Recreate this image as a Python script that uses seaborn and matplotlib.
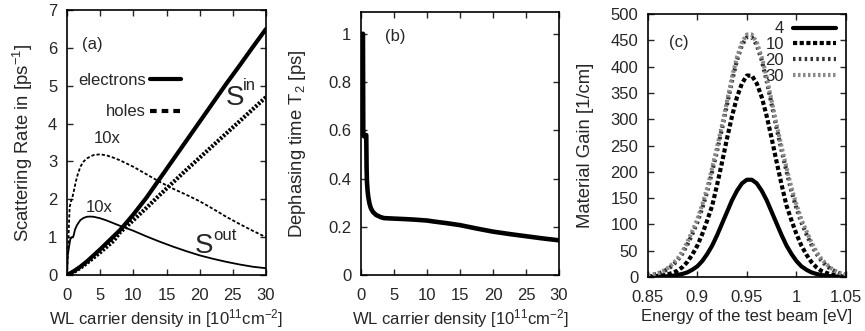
import matplotlib
matplotlib.use("Agg")
import matplotlib.pyplot as plt
import seaborn as sns
import numpy as np

# ---------------- data ----------------
# (a) scattering rates
n_in = [0, 1, 2, 3, 4, 5, 6, 7, 8, 10, 12, 14, 16, 18, 20, 22, 24, 26, 28, 30]
el_in = [0, 0.10, 0.22, 0.36, 0.52, 0.68, 0.85, 1.02, 1.19, 1.60, 2.05, 2.55, 3.05, 3.55, 4.05, 4.55, 5.05, 5.53, 6.02, 6.50]
ho_in = [0, 0.08, 0.19, 0.32, 0.46, 0.60, 0.75, 0.90, 1.13, 1.45, 1.78, 2.12, 2.45, 2.78, 3.10, 3.42, 3.74, 4.06, 4.38, 4.70]

n_el_out = [0, 0.1, 0.3, 0.5, 0.7, 0.9, 1.0, 1.2, 1.5, 2.0, 2.5, 3.0, 3.5, 4, 5, 6, 7, 8, 10,
            12, 14, 16, 18, 20, 22, 24, 26, 28, 30]
el_out = [0, 0.50, 0.75, 0.95, 1.00, 1.00, 1.05, 1.20, 1.32, 1.45, 1.51, 1.54, 1.545, 1.54, 1.50,
          1.44, 1.37, 1.30, 1.17, 1.02, 0.88, 0.75, 0.63, 0.52, 0.43, 0.35, 0.28, 0.22, 0.18]

n_ho_out = [0, 0.1, 0.2, 0.3, 0.4, 0.6, 0.8, 1.0, 1.3, 1.6, 2.0, 2.5, 3.0, 3.5, 4, 5, 6, 7, 8, 10,
            12, 14, 16, 18, 20, 22, 24, 26, 28, 30]
ho_out = [0, 0.48, 0.90, 1.40, 1.80, 1.95, 2.05, 2.20, 2.45, 2.65, 2.86, 3.00, 3.08, 3.13, 3.17,
          3.19, 3.16, 3.10, 3.03, 2.86, 2.66, 2.46, 2.28, 2.12, 1.95, 1.75, 1.54, 1.35, 1.17, 1.00]

# (b) dephasing time
n_t2 = [0.3, 0.35, 0.45, 0.6, 0.8, 0.85, 0.9, 1.0, 1.1, 1.3, 1.5, 1.8, 2.3, 3.0, 3.5, 5, 6.6, 8,
        10, 11, 13, 15, 17.5, 20, 22.5, 25, 27.5, 30]
t2 = [1.0, 0.58, 0.575, 0.58, 0.58, 0.45, 0.39, 0.35, 0.325, 0.295, 0.277, 0.262, 0.249, 0.240,
      0.236, 0.234, 0.232, 0.230, 0.226, 0.222, 0.215, 0.207, 0.193, 0.180, 0.170, 0.161, 0.152, 0.144]

# (c) material gain
energy = [0.85, 0.855, 0.86, 0.865, 0.87, 0.875, 0.88, 0.885, 0.89, 0.895, 0.90, 0.905, 0.91,
          0.915, 0.92, 0.925, 0.93, 0.935, 0.94, 0.945, 0.95, 0.955, 0.96, 0.965, 0.97, 0.975,
          0.98, 0.985, 0.99, 0.995, 1.00, 1.005, 1.01, 1.015, 1.02, 1.025, 1.03, 1.035, 1.04,
          1.045, 1.05]
gain4 = [0.3, 0.4, 0.6, 1, 1.5, 2.5, 4, 6, 9, 14, 20.5, 30.6, 44, 60, 80, 102, 124, 146, 164, 178, 185,
         185, 178, 164, 146, 124, 102, 80, 60, 44, 30.6, 20.5, 14, 9, 6, 4, 2.5, 1.5, 1, 0.6, 0.4]
gain10 = [1, 1.5, 2.2, 3.2, 5, 8, 12, 19, 29, 43, 60, 82, 108, 136, 176, 219, 264, 306, 342, 368, 383,
          383, 368, 342, 306, 264, 219, 176, 136, 108, 82, 60, 43, 29, 19, 12, 8, 5, 3.2, 2.2, 1.5]
gain20 = [3, 4.5, 6, 10, 15, 22, 32, 45, 62, 82, 104, 131, 163, 201, 241, 283, 328, 373, 412, 441, 456,
          456, 441, 412, 373, 328, 283, 241, 201, 163, 131, 104, 82, 62, 45, 32, 22, 15, 10, 6, 4.5]
gain30 = [3.5, 5, 7, 11, 17, 25, 35, 49, 67, 88, 110, 138, 170, 208, 248, 290, 335, 380, 418, 446, 461,
          461, 446, 418, 380, 335, 290, 248, 208, 170, 138, 110, 88, 67, 49, 35, 25, 17, 11, 7, 5]
gain_labels = ["4", "10", "20", "30"]

# ---------------- style ----------------
sns.set_style("ticks")
plt.rcParams["font.family"] = ["Liberation Sans", "DejaVu Sans"]
plt.rcParams["mathtext.fontset"] = "custom"
plt.rcParams["mathtext.rm"] = "Liberation Sans"
plt.rcParams["mathtext.it"] = "Liberation Sans:italic"
plt.rcParams["axes.linewidth"] = 1.2
FS = 12
YFS = 13.3

fig = plt.figure(figsize=(8.65, 3.31), dpi=100)
axA = fig.add_axes([0.0775, 0.169, 0.230, 0.8006])
axB = fig.add_axes([0.4173, 0.169, 0.2289, 0.7946])
axC = fig.add_axes([0.749, 0.163, 0.2289, 0.7946])


def style_axes(ax, ylab_x):
    ax.tick_params(direction="in", top=True, right=True, length=4, width=1,
                   labelsize=FS)
    ax.tick_params(axis="x", pad=9.5)
    ax.tick_params(axis="y", pad=7)
    for s in ax.spines.values():
        s.set_visible(True)
        s.set_color("black")
        s.set_linewidth(1.2)
    ax.yaxis.set_label_coords(ylab_x, 0.5)


# ---- (a) ----
sns.lineplot(x=n_in, y=el_in, ax=axA, color="black", lw=3.0, label="electrons",
             estimator=None, sort=False, legend=False)
sns.lineplot(x=n_in, y=ho_in, ax=axA, color="black", lw=3.0, label="holes",
             estimator=None, sort=False, legend=False)
axA.lines[-1].set_dashes([0.55, 0.4])
sns.lineplot(x=n_el_out, y=el_out, ax=axA, color="black", lw=1.3,
             estimator=None, sort=False, legend=False)
sns.lineplot(x=n_ho_out, y=ho_out, ax=axA, color="black", lw=1.3,
             estimator=None, sort=False, legend=False)
axA.lines[-1].set_dashes([1.8, 1.1])
axA.set_xlim(0, 30)
axA.set_ylim(0, 7)
axA.set_xticks([0, 5, 10, 15, 20, 25, 30])
axA.set_yticks([0, 1, 2, 3, 4, 5, 6, 7])
axA.set_xlabel("WL carrier density in [10$^{11}$cm$^{-2}$]", fontsize=FS, labelpad=3)
axA.set_ylabel("Scattering Rate in [ps$^{-1}$]", fontsize=YFS)
style_axes(axA, -0.16)
h, l = axA.get_legend_handles_labels()
legA = axA.legend(h, l, loc="upper left", bbox_to_anchor=(-0.02, 0.82), frameon=False,
                  markerfirst=False, handlelength=1.86, handletextpad=0.25,
                  labelspacing=1.0, fontsize=FS)
legA.get_lines()[1].set_dashes([1.6, 1.2])
axA.text(3.8, 6.1, "(a)", fontsize=FS, ha="center", va="center")
axA.text(6.1, 3.62, "10x", fontsize=FS, ha="center", va="center")
axA.text(4.8, 1.78, "10x", fontsize=FS, ha="center", va="center")
axA.text(25.3, 4.49, "S", fontsize=20, ha="center", va="baseline")
axA.text(26.5, 4.89, "in", fontsize=12, ha="left", va="baseline")
axA.text(20.7, 0.58, "S", fontsize=20, ha="center", va="baseline")
axA.text(22.0, 0.92, "out", fontsize=12, ha="left", va="baseline")

# ---- (b) ----
sns.lineplot(x=n_t2, y=t2, ax=axB, color="black", lw=3.3,
             estimator=None, sort=False, legend=False)
axB.set_xlim(0, 30)
axB.set_ylim(0, 1.09)
axB.set_xticks([0, 5, 10, 15, 20, 25, 30])
axB.set_yticks([0, 0.2, 0.4, 0.6, 0.8, 1.0])
axB.set_yticklabels(["0", "0.2", "0.4", "0.6", "0.8", "1"])
axB.set_xlabel("WL carrier density [10$^{11}$cm$^{-2}$]", fontsize=FS, labelpad=3)
axB.set_ylabel("Dephasing time T$_2$ [ps]", fontsize=YFS)
style_axes(axB, -0.27)
axB.text(5.15, 0.99, "(b)", fontsize=FS, ha="center", va="center")

# ---- (c) ----
styles = [
    dict(color="black", dashes=None),
    dict(color="black", dashes=[1.0, 0.6]),
    dict(color="#333333", dashes=[0.6, 0.8]),
    dict(color="#8a8a8a", dashes=[0.6, 0.6]),
]
for g, lab, st in zip([gain4, gain10, gain20, gain30], gain_labels, styles):
    sns.lineplot(x=energy, y=g, ax=axC, color=st["color"], lw=3.0, label=lab,
                 estimator=None, sort=False, legend=False)
    if st["dashes"] is not None:
        axC.lines[-1].set_dashes(st["dashes"])
axC.set_xlim(0.85, 1.05)
axC.set_ylim(0, 500)
axC.set_xticks([0.85, 0.9, 0.95, 1.0, 1.05])
axC.set_xticklabels(["0.85", "0.9", "0.95", "1", "1.05"])
axC.set_yticks(list(range(0, 501, 50)))
axC.set_xlabel("Energy of the test beam [eV]", fontsize=FS, labelpad=3)
axC.set_ylabel("Material Gain [1/cm]", fontsize=YFS)
style_axes(axC, -0.27)
h, l = axC.get_legend_handles_labels()
legC = axC.legend(h, l, loc="upper right", bbox_to_anchor=(1.0, 1.01), frameon=False,
                  markerfirst=False, handlelength=2.6, handletextpad=0.5,
                  labelspacing=0.05, fontsize=FS, borderaxespad=0.2)
for ln, st in zip(legC.get_lines(), styles):
    if st["dashes"] is not None:
        ln.set_dashes(st["dashes"])
axC.text(0.8808, 446, "(c)", fontsize=FS, ha="center", va="center")

fig.savefig("out.png", dpi=100)
